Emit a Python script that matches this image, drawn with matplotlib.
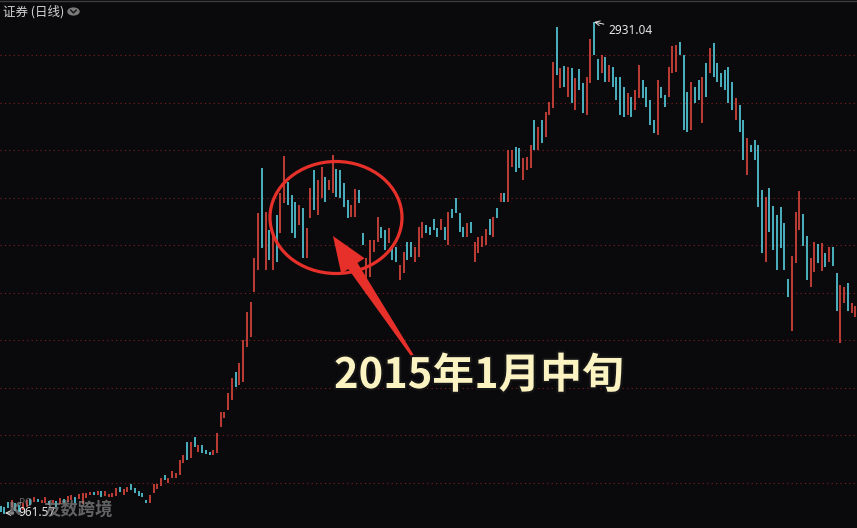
import matplotlib
matplotlib.use('Agg')
import matplotlib.pyplot as plt
from matplotlib.patches import Ellipse, Circle, Polygon
import matplotlib.patheffects as pe
import numpy as np

plt.rcParams['font.family'] = ['Noto Sans CJK SC', 'DejaVu Sans']

# ---------------- data (daily candles, price) ----------------
high = [
    995, 991, 1011, 1019, 1007, 999, 1007, 1019, 1023, 1031,
    1023, 1019, 1031, 1015, 1019, 1015, 1027, 1023, 1035, 1039,
    1031, 1043, 1047, 1047, 1051, 1051, 1055, 1055, 1055, 1043,
    1047, 1067, 1071, 1063, 1071, 1083, 1067, 1055, 1047, 1019,
    1039, 1083, 1083, 1107, 1119, 1107, 1135, 1127, 1179, 1199,
    1251, 1251, 1271, 1239, 1239, 1219, 1211, 1219, 1287, 1371,
    1371, 1447, 1507, 1531, 1567, 1659, 1771, 1811, 1987, 2167,
    2347, 2171, 2099, 2087, 2159, 2247, 2395, 2291, 2239, 2211,
    2199, 2187, 2107, 2267, 2339, 2299, 2351, 2311, 2299, 2399,
    2343, 2339, 2287, 2219, 2199, 2263, 2259, 2087, 1987, 2059,
    2059, 2151, 2111, 2099, 2107, 2031, 2031, 1959, 2011, 2051,
    2051, 2031, 2111, 2131, 2119, 2111, 2143, 2107, 2143, 2111,
    2171, 2183, 2227, 2167, 2111, 2127, 2131, 2051, 2071, 2075,
    2103, 2143, 2151, 2187, 2247, 2247, 2419, 2419, 2431, 2427,
    2387, 2391, 2439, 2539, 2511, 2539, 2571, 2611, 2771, 2911,
    2747, 2755, 2751, 2747, 2707, 2743, 2687, 2711, 2863, 2931.04,
    2783, 2799, 2791, 2759, 2751, 2711, 2711, 2671, 2647, 2631,
    2659, 2759, 2699, 2671, 2619, 2539, 2699, 2671, 2639, 2751,
    2835, 2839, 2851, 2799, 2651, 2691, 2671, 2699, 2711, 2767,
    2827, 2847, 2767, 2727, 2739, 2751, 2691, 2627, 2599, 2539,
    2467, 2439, 2459, 2439, 2259, 2231, 2267, 2195, 2159, 2191,
    2127, 1903, 1995, 2171, 2255, 2163, 2075, 1987, 2051, 2043,
    2047, 2007, 2031, 2031, 1927, 1879, 1871, 1887, 1807, 1795,
]
low = [
    971, 961.57, 987, 991, 975, 971, 979, 991, 999, 1011,
    1011, 1007, 1007, 999, 1007, 991, 1003, 1007, 1011, 1019,
    1007, 1023, 1003, 1027, 1039, 1039, 1039, 1031, 1035, 1031,
    1031, 1035, 1051, 1039, 1051, 1059, 1047, 1035, 1031, 1007,
    1007, 1047, 1063, 1075, 1099, 1087, 1107, 1107, 1119, 1167,
    1179, 1187, 1231, 1211, 1207, 1203, 1199, 1199, 1207, 1311,
    1347, 1379, 1419, 1471, 1479, 1491, 1631, 1671, 1851, 1939,
    2027, 1939, 1979, 1939, 1971, 2087, 2207, 2199, 2087, 2067,
    2119, 1987, 1987, 2147, 2179, 2159, 2227, 2211, 2259, 2247,
    2231, 2227, 2191, 2147, 2151, 2151, 2207, 2039, 1879, 1911,
    2011, 2051, 2067, 2019, 2047, 1979, 1971, 1899, 1927, 1979,
    1991, 1971, 1991, 2067, 2087, 2079, 2099, 2071, 2099, 2059,
    2039, 2147, 2167, 2091, 2071, 2071, 2087, 1971, 2007, 2031,
    2039, 2079, 2071, 2147, 2211, 2211, 2211, 2351, 2331, 2347,
    2299, 2339, 2347, 2419, 2419, 2447, 2471, 2559, 2587, 2719,
    2667, 2671, 2631, 2607, 2579, 2659, 2567, 2559, 2687, 2799,
    2699, 2727, 2691, 2691, 2671, 2619, 2559, 2551, 2559, 2551,
    2579, 2627, 2627, 2591, 2519, 2487, 2479, 2627, 2591, 2631,
    2727, 2731, 2799, 2499, 2491, 2499, 2607, 2619, 2527, 2631,
    2727, 2711, 2691, 2671, 2659, 2607, 2579, 2539, 2491, 2379,
    2319, 2411, 2379, 2191, 2007, 1971, 2091, 2019, 1939, 2027,
    1939, 1831, 1695, 1967, 2099, 2035, 1899, 1871, 1931, 1967,
    1935, 1951, 1971, 1955, 1775, 1647, 1807, 1775, 1767, 1751,
]
# u = up day (red), d = down day (cyan)
direction = ("dddudduudu" "duudududuu" "duuuududuu" "uuduuddddd"
             "uuuuduuuuu" "dududdduuu" "uuuduuuuuu" "dududuuddd"
             "uduuduuduu" "dddduudduu" "uuddudduud" "duuuddddud"
             "udddduduuu" "udududuudd" "uuududuuud" "udududduud"
             "dududdddud" "uudddduddu" "uuddduddud" "uddddddudd"
             "uddddudddd" "dduuudduud" "ududduuduu")
title = "证券 (日线)"
max_label = "2931.04"
min_label = "961.57"
note = "2015年1月中旬"
watermark = "友数跨境"

assert len(high) == len(low) == len(direction)

# ---------------- figure ----------------
W, H = 857, 528
BG = '#0a0a0d'
RED = '#e5483e'
CYAN = '#58d6e6'
fig = plt.figure(figsize=(W / 100, H / 100), dpi=100, facecolor=BG)
ax = fig.add_axes([0, 0, 1, 1])
ax.set_facecolor(BG)
n = len(high)
x = np.arange(n)
dx = 3.733
ax.set_xlim(-0.5 / dx, (W - 0.5) / dx)
ax.set_ylim(907, 3019)
ax.axis('off')

def fx(px):
    return px / W

def fy(py):
    return 1 - py / H

# dotted grid lines (evenly spaced)
for gy in [55, 102.5, 150, 197.5, 245, 292.5, 340, 387.5, 435, 482.5]:
    ax.plot([0, 1], [fy(gy), fy(gy)], transform=ax.transAxes,
            color='#7d1f1f', lw=0.8, ls=(0, (1, 3)), zorder=1)

# top border
fig.add_artist(plt.Line2D([0, 1], [fy(0.5), fy(0.5)], color='#3c3c3c', lw=1.0))

colors = [RED if d == 'u' else CYAN for d in direction]
ax.vlines(x, low, high, colors=colors, lw=1.15, zorder=3)

# title and icon
fig.text(fx(3), fy(11.5), title, color='#d4d4d4', fontsize=9, va='center', ha='left')
fig.add_artist(Circle((fx(73.5), fy(11.5)), 5.5 / W, transform=fig.transFigure,
                      color='#7c7c7c', zorder=5))
fig.add_artist(plt.Line2D([fx(70.8), fx(73.5), fx(76.2)], [fy(10.2), fy(12.9), fy(10.2)],
                          color='#1a1a1a', lw=1.1, zorder=6))

# max / min labels
imax = int(np.argmax(high))
ax.annotate(max_label, xy=(imax, high[imax]), xycoords='data',
            xytext=(fx(608), fy(30)), textcoords='figure fraction',
            color='#e6e6e6', fontsize=8.5, family=['Noto Sans', 'DejaVu Sans'],
            va='center', ha='left',
            arrowprops=dict(arrowstyle='->', color='#e6e6e6', lw=0.7,
                            shrinkA=1, shrinkB=0), zorder=6)
ax.annotate(min_label, xy=(fx(5), fy(513)), xycoords='figure fraction',
            xytext=(fx(18), fy(513)), textcoords='figure fraction',
            color='#e6e6e6', fontsize=8.5, family=['Noto Sans', 'DejaVu Sans'],
            va='center', ha='left',
            arrowprops=dict(arrowstyle='->', color='#e6e6e6', lw=0.7,
                            shrinkA=1, shrinkB=0), zorder=6)

# watermark (semi-transparent, drawn over the low label as in the source)
fig.text(fx(8), fy(510), "K", color='#8a8a8a', alpha=0.7, fontsize=12,
         fontweight='bold', va='center', ha='left', family=['DejaVu Sans'])
fig.text(fx(19), fy(503), "PO", color='#8a8a8a', alpha=0.7, fontsize=7,
         va='center', ha='left', family=['DejaVu Sans'])
fig.text(fx(44), fy(510), watermark, color='#8a8a8a', alpha=0.7, fontsize=12.5,
         fontweight='bold', va='center', ha='left')

# red ellipse
fig.add_artist(Ellipse((fx(336), fy(217.5)), 132 / W, 112 / H, transform=fig.transFigure,
                       fill=False, edgecolor='#e8302a', lw=2.3, zorder=7))

# red tapered arrow
tip = np.array([333.0, 236.0])
tail = np.array([414.0, 358.0])
u = (tip - tail) / np.linalg.norm(tip - tail)
nrm = np.array([u[1], -u[0]])
base = tip - u * 36
pts_px = [tip, base + nrm * 14, base + nrm * 5.5, tail + nrm * 1.3,
          tail - nrm * 1.3, base - nrm * 5.5, base - nrm * 14]
pts = [(fx(p[0]), fy(p[1])) for p in pts_px]
fig.add_artist(Polygon(pts, closed=True, transform=fig.transFigure,
                       facecolor='#e8302a', edgecolor='none', zorder=7))

# big note text
fig.text(fx(334), fy(376), note, color='#fcf3c3', fontsize=30, fontweight='bold',
         va='center', ha='left', zorder=8,
         path_effects=[pe.withStroke(linewidth=3, foreground='#151515')])

fig.savefig('out.png', dpi=100, facecolor=BG)
